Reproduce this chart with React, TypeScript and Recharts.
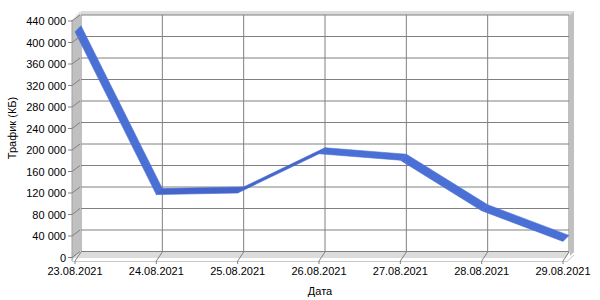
import { LineChart, Line, XAxis, YAxis, CartesianGrid } from "recharts";

const dates = [
  "23.08.2021",
  "24.08.2021",
  "25.08.2021",
  "26.08.2021",
  "27.08.2021",
  "28.08.2021",
  "29.08.2021",
];
const traffic = [420000, 117000, 120000, 193000, 181000, 87000, 30000];
const yTicks = [0, 40000, 80000, 120000, 160000, 200000, 240000, 280000, 320000, 360000, 400000, 440000];

const data = dates.map((date, i) => ({ date, traffic: traffic[i] }));

// depth of the fake 3d box
const DX = 6;
const DY = -6;
const font = "'Liberation Sans', Arial, sans-serif";

const fmt = (v: number) => String(v).replace(/\B(?=(\d{3})+(?!\d))/g, " ");

function YTick(props: any) {
  const { y, payload } = props;
  return (
    <g>
      <line x1={68} y1={y} x2={72} y2={y} stroke="#808080" />
      <line x1={72} y1={y} x2={72 + DX + 2} y2={y + DY} stroke="#808080" />
      <text x={66} y={y + 4} textAnchor="end" fontSize={11} fontFamily={font} fill="#000">
        {fmt(payload.value)}
      </text>
    </g>
  );
}

function XTick(props: any) {
  const { x, payload } = props;
  return (
    <g>
      <line x1={x} y1={264} x2={x} y2={261} stroke="#808080" />
      <line x1={x} y1={261} x2={x + DX} y2={252} stroke="#808080" />
      <text x={x} y={275} textAnchor="middle" fontSize={11} fontFamily={font} fill="#000">
        {payload.value}
      </text>
    </g>
  );
}

// each dot draws the ribbon piece up to the next point
function Ribbon(props: any) {
  const { index, points } = props;
  if (!points || index >= points.length - 1) return <g key={`r${index}`} />;
  const a = points[index];
  const b = points[index + 1];
  const d = `M${a.x},${a.y} L${b.x},${b.y} L${b.x + DX},${b.y + DY} L${a.x + DX},${a.y + DY} Z`;
  const up = b.y <= a.y + 2;
  const fill = up ? "#4466cc" : "#4a70d6";
  return <path key={`r${index}`} d={d} fill={fill} stroke={fill} strokeWidth={0.6} />;
}

function Box() {
  return (
    <svg width={600} height={300} style={{ position: "absolute", left: 0, top: 0 }}>
      {/* left wall */}
      <polygon points="72,21 80,13 80,252 72,260" fill="#c0c0c0" />
      <polygon points="71,21 79,12 82,11 74,20" fill="#e4e4e4" />
      {/* top and right edge of back wall */}
      <polygon points="78,15 82,11 574,11 570,15" fill="#dcdcdc" />
      <polygon points="570,15 574,11 574,252 570,256" fill="#c0c0c0" />
      {/* floor */}
      <polygon points="73,258 80,252 570,252 565,258" fill="#dcdcdc" />
      {/* axis lines */}
      <line x1={72} y1={20} x2={72} y2={261} stroke="#a0a0a0" />
      <line x1={72} y1={261.5} x2={567} y2={261.5} stroke="#c8c8c8" />
      <line x1={567} y1={261.5} x2={574} y2={255} stroke="#c8c8c8" />
    </svg>
  );
}

export default function App() {
  return (
    <div style={{ position: "absolute", left: 0, top: 0, width: 600, height: 300, background: "#fff" }}>
      <style>{`.back-grid .recharts-cartesian-grid { transform: translate(${DX}px, ${DY}px); }`}</style>
      <Box />
      <div className="back-grid" style={{ position: "absolute", left: 0, top: 0 }}>
        <LineChart width={600} height={300} data={data} margin={{ top: 21, right: 37, bottom: 0, left: 0 }}>
          <CartesianGrid stroke="#808080" strokeWidth={1} />
          <XAxis
            dataKey="date"
            height={42.5}
            interval={0}
            axisLine={false}
            tickLine={false}
            tick={<XTick />}
          />
          <YAxis
            width={75}
            domain={[0, 440000]}
            ticks={yTicks}
            interval={0}
            axisLine={false}
            tickLine={false}
            tick={<YTick />}
          />
          <Line
            dataKey="traffic"
            stroke="none"
            dot={(p: any) => <Ribbon {...p} key={`r${p.index}`} />}
            activeDot={false}
            isAnimationActive={false}
          />
          <text x={320} y={295} textAnchor="middle" fontSize={11} fontFamily={font} fill="#000">
            Дата
          </text>
          <text
            x={0}
            y={0}
            transform="translate(16, 128) rotate(-90)"
            textAnchor="middle"
            fontSize={11}
            fontFamily={font}
            fill="#000"
          >
            Трафик (КБ)
          </text>
        </LineChart>
      </div>
    </div>
  );
}
